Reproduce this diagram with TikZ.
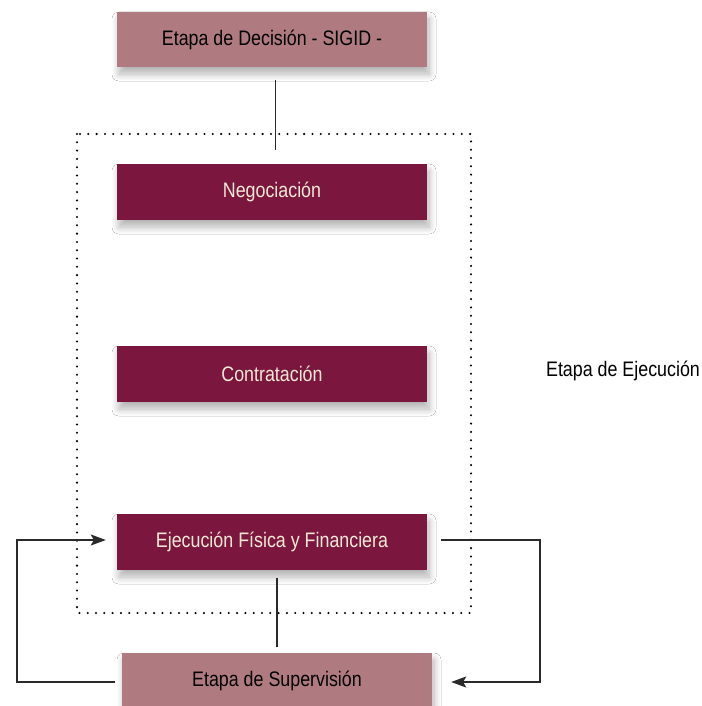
\documentclass[tikz,border=0pt]{standalone}
\usepackage{fontspec}
\setmainfont[FakeStretch=0.85]{Liberation Sans}
\usetikzlibrary{arrows.meta,shadows.blur}
\definecolor{mauve}{HTML}{AF7B80}
\definecolor{maroon}{HTML}{7B173E}
\definecolor{cream}{HTML}{F5E8D6}
\definecolor{linegray}{HTML}{2A2A2A}
\tikzset{
  boxbase/.style={minimum width=310pt, minimum height=56pt, inner sep=0pt,
    font=\fontsize{21}{24}\selectfont,
    blur shadow={shadow xshift=2pt, shadow yshift=-7pt, shadow blur steps=10, shadow blur radius=7pt, shadow opacity=30}},
  lightbox/.style={boxbase, fill=mauve, text=black},
  darkbox/.style={boxbase, fill=maroon, text=cream},
  conn/.style={draw=linegray, line width=1.2pt},
  arr/.style={conn, -{Stealth[length=15pt,width=11pt,inset=3pt]}},
  dotframe/.style={line width=2.3pt, line cap=round, dash pattern=on 0pt off 8.3pt}
}
\begin{document}
\begin{tikzpicture}[x=1pt,y=-1pt]
\useasboundingbox (0,0) rectangle (701,706);
\fill[white] (0,0) rectangle (701,706);
\draw[dotframe] (77,134) rectangle (471,613);
\node[lightbox, minimum height=55pt] (dec) at (272,39.5) {Etapa de Decisión - SIGID -};
\node[darkbox] (neg) at (272,192) {Negociación};
\node[darkbox] (con) at (272,374) {Contratación};
\node[darkbox] (eje) at (272,542) {Ejecución Física y Financiera};
\node[lightbox] (sup) at (277,681) {Etapa de Supervisión};
\node[font=\fontsize{21}{24}\selectfont] (lab) at (623,371) {Etapa de Ejecución};
% connectors
\coordinate (t1) at ([xshift=3.5pt, yshift=-13pt]dec.south);
\coordinate (t2) at ([xshift=3.5pt, yshift=14pt]neg.north);
\draw[conn] (t1) -- (t2);
\coordinate (b1) at ([xshift=5pt, yshift=-8pt]eje.south);
\coordinate (b2) at ([xshift=0pt, yshift=6pt]sup.north);
\draw[conn] (b1) -- (b2);
\coordinate (ls) at ([xshift=-7pt]sup.west |- 0,682);
\coordinate (lt) at ([xshift=-11pt, yshift=2pt]eje.west);
\coordinate (lc) at (17,0);
\draw[arr] (ls) -| (lc |- lt) -- (lt);
\coordinate (rs) at ([xshift=14pt, yshift=2pt]eje.east);
\coordinate (rt) at ([xshift=19pt]sup.east |- 0,682);
\coordinate (rc) at (540,0);
\draw[arr] (rs) -| (rc |- rt) -- (rt);
\end{tikzpicture}
\end{document}
